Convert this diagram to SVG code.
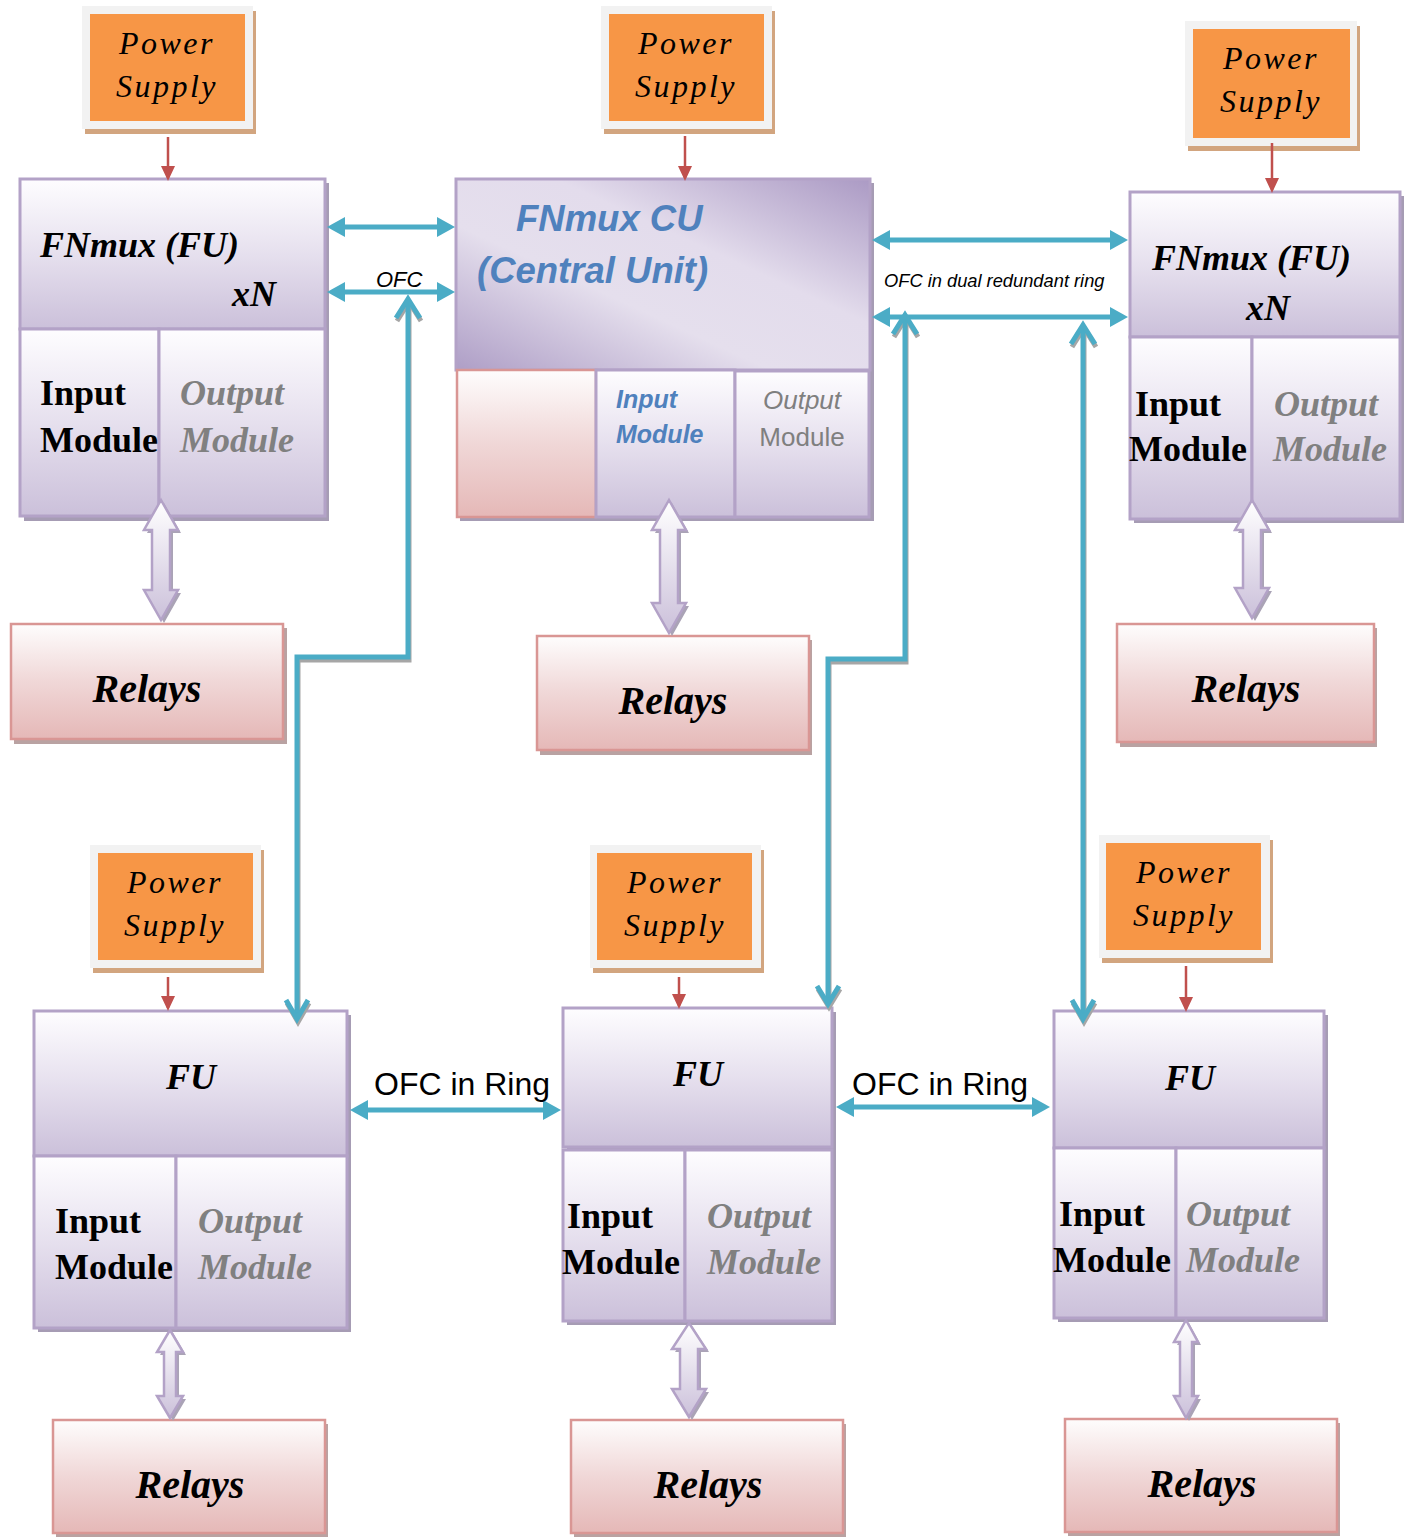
<svg xmlns="http://www.w3.org/2000/svg" width="1410" height="1537" viewBox="0 0 1410 1537">
<defs>
<linearGradient id="fuGrad" x1="0" y1="0" x2="0" y2="1">
<stop offset="0" stop-color="#fefdff"/><stop offset="0.5" stop-color="#e6e0ee"/><stop offset="1" stop-color="#cbc0da"/>
</linearGradient>
<linearGradient id="relGrad" x1="0" y1="0" x2="0" y2="1">
<stop offset="0" stop-color="#fefdfd"/><stop offset="0.5" stop-color="#f0d7d7"/><stop offset="1" stop-color="#e5b8b7"/>
</linearGradient>
<linearGradient id="cuGrad" x1="1" y1="0" x2="0" y2="1">
<stop offset="0" stop-color="#ab9ac4"/><stop offset="0.38" stop-color="#e3dcec"/><stop offset="0.62" stop-color="#e5dfed"/><stop offset="1" stop-color="#ae9ec6"/>
</linearGradient>
<linearGradient id="arrGrad" x1="0" y1="0" x2="0" y2="1">
<stop offset="0" stop-color="#ffffff"/><stop offset="1" stop-color="#cbc0da"/>
</linearGradient>
<marker id="cyanHead" viewBox="0 0 18 20" markerWidth="18" markerHeight="20" refX="4" refY="10" markerUnits="userSpaceOnUse" orient="auto-start-reverse">
<path d="M0,0 L18,10 L0,20 Z" fill="#4bacc6"/>
</marker>
<marker id="redHead" viewBox="0 0 15 14" markerWidth="15" markerHeight="14" refX="12" refY="7" markerUnits="userSpaceOnUse" orient="auto">
<path d="M0,0 L15,7 L0,14 Z" fill="#c0504d"/>
</marker>
<style>
.box{fill:url(#fuGrad);stroke:#b3a2c7;stroke-width:3}
.cu{fill:url(#cuGrad);stroke:#b3a2c7;stroke-width:3}
.rel{fill:url(#relGrad);stroke:#d99694;stroke-width:2.5}
.shFU{fill:#a69cb4}
.shRel{fill:#b9a2a2}
.shPS{fill:#d2a57f}
.psFrame{fill:#f2f2f2}
.psIn{fill:#f79646}
.barr{fill:url(#arrGrad);stroke:#b3a2c7;stroke-width:2.5;stroke-linejoin:miter}
.barrSh{fill:#aaa3b6}
.psText{font-family:"Liberation Serif","Times New Roman",serif;font-style:italic;font-size:32px;letter-spacing:2.5px;fill:#000;text-anchor:middle}
.title{font-family:"Liberation Serif","Times New Roman",serif;font-style:italic;font-weight:bold;font-size:36px;fill:#000}
.inp{font-family:"Liberation Serif","Times New Roman",serif;font-weight:bold;font-size:36px;fill:#000}
.outp{font-family:"Liberation Serif","Times New Roman",serif;font-weight:bold;font-style:italic;font-size:36px;fill:#808080}
.relT{font-family:"Liberation Serif","Times New Roman",serif;font-style:italic;font-weight:bold;font-size:40px;fill:#000;text-anchor:middle}
.cuT{font-family:"Liberation Sans",Arial,sans-serif;font-style:italic;font-weight:bold;font-size:36.5px;fill:#4f81bd}
.cuIn{font-family:"Liberation Sans",Arial,sans-serif;font-style:italic;font-weight:bold;font-size:25px;fill:#4f81bd}
.cuOut{font-family:"Liberation Sans",Arial,sans-serif;font-size:26px;fill:#7f7f7f;text-anchor:middle}
.cyan{fill:none;stroke:#4bacc6;stroke-width:5}
.cyanSh{fill:none;stroke:#a6a6a6;stroke-width:5}
.red{fill:none;stroke:#c0504d;stroke-width:2.5}
.lbl{font-family:"Liberation Sans",Arial,sans-serif;fill:#000}
</style>
</defs>
<rect width="1410" height="1537" fill="#ffffff"/>

<!-- Power supplies -->
<g id="ps1"><rect class="shPS" x="85" y="11" width="171" height="123"/><rect class="psFrame" x="82" y="6" width="171" height="123"/><rect class="psIn" x="90" y="14" width="155" height="107"/><text class="psText" x="167" y="54">Power</text><text class="psText" x="167" y="97">Supply</text></g>
<g id="ps2"><rect class="shPS" x="604" y="11" width="171" height="123"/><rect class="psFrame" x="601" y="6" width="171" height="123"/><rect class="psIn" x="609" y="14" width="155" height="107"/><text class="psText" x="686" y="54">Power</text><text class="psText" x="686" y="97">Supply</text></g>
<g id="ps3"><rect class="shPS" x="1188" y="26" width="172" height="125"/><rect class="psFrame" x="1185" y="21" width="172" height="125"/><rect class="psIn" x="1193" y="29" width="157" height="109"/><text class="psText" x="1271" y="69">Power</text><text class="psText" x="1271" y="112">Supply</text></g>
<g id="ps4"><rect class="shPS" x="93" y="850" width="171" height="123"/><rect class="psFrame" x="90" y="845" width="171" height="123"/><rect class="psIn" x="98" y="853" width="155" height="107"/><text class="psText" x="175" y="893">Power</text><text class="psText" x="175" y="936">Supply</text></g>
<g id="ps5"><rect class="shPS" x="593" y="850" width="171" height="123"/><rect class="psFrame" x="590" y="845" width="171" height="123"/><rect class="psIn" x="597" y="853" width="155" height="107"/><text class="psText" x="675" y="893">Power</text><text class="psText" x="675" y="936">Supply</text></g>
<g id="ps6"><rect class="shPS" x="1102" y="840" width="171" height="123"/><rect class="psFrame" x="1099" y="835" width="171" height="123"/><rect class="psIn" x="1106" y="843" width="155" height="107"/><text class="psText" x="1184" y="883">Power</text><text class="psText" x="1184" y="926">Supply</text></g>

<!-- FU top-left -->
<g id="fu1">
<rect class="shFU" x="24" y="183" width="305" height="338"/>
<rect class="box" x="20" y="179" width="305" height="150"/>
<rect class="box" x="20" y="329" width="139" height="187"/>
<rect class="box" x="159" y="329" width="166" height="187"/>
<text class="title" x="40" y="257">FNmux (FU)</text>
<text class="title" x="232" y="306">xN</text>
<text class="inp" x="40" y="405">Input</text><text class="inp" x="40" y="452">Module</text>
<text class="outp" x="180" y="405">Output</text><text class="outp" x="180" y="452">Module</text>
</g>

<!-- CU -->
<g id="cu">
<rect class="shFU" x="460" y="183" width="414" height="338"/>
<rect class="cu" x="456" y="179" width="414" height="191"/>
<rect class="rel" x="457" y="370" width="139" height="147"/>
<rect class="box" x="596" y="370" width="139" height="147"/>
<rect class="box" x="735" y="371" width="134" height="146"/>
<text class="cuT" x="516" y="231">FNmux CU</text>
<text class="cuT" x="477" y="283">(Central Unit)</text>
<text class="cuIn" x="616" y="408">Input</text><text class="cuIn" x="616" y="443">Module</text>
<text class="cuOut" x="802" y="409" font-style="italic">Output</text><text class="cuOut" x="802" y="446">Module</text>
</g>

<!-- FU top-right -->
<g id="fu3">
<rect class="shFU" x="1134" y="196" width="270" height="327"/>
<rect class="box" x="1130" y="192" width="270" height="145"/>
<rect class="box" x="1130" y="337" width="122" height="182"/>
<rect class="box" x="1252" y="337" width="148" height="182"/>
<text class="title" x="1152" y="270">FNmux (FU)</text>
<text class="title" x="1246" y="320">xN</text>
<text class="inp" x="1135" y="416">Input</text><text class="inp" x="1129" y="461">Module</text>
<text class="outp" x="1274" y="416">Output</text><text class="outp" x="1273" y="461">Module</text>
</g>

<!-- FU bottom-left -->
<g id="fu4">
<rect class="shFU" x="38" y="1015" width="313" height="317"/>
<rect class="box" x="34" y="1011" width="313" height="145"/>
<rect class="box" x="34" y="1156" width="142" height="172"/>
<rect class="box" x="176" y="1156" width="171" height="172"/>
<text class="title" x="191" y="1089" text-anchor="middle">FU</text>
<text class="inp" x="55" y="1233">Input</text><text class="inp" x="55" y="1279">Module</text>
<text class="outp" x="198" y="1233">Output</text><text class="outp" x="198" y="1279">Module</text>
</g>

<!-- FU bottom-middle -->
<g id="fu5">
<rect class="shFU" x="567" y="1012" width="269" height="313"/>
<rect class="box" x="563" y="1008" width="269" height="139"/>
<rect class="box" x="563" y="1150" width="122" height="171"/>
<rect class="box" x="685" y="1150" width="147" height="171"/>
<text class="title" x="698" y="1086" text-anchor="middle">FU</text>
<text class="inp" x="567" y="1228">Input</text><text class="inp" x="562" y="1274">Module</text>
<text class="outp" x="707" y="1228">Output</text><text class="outp" x="707" y="1274">Module</text>
</g>

<!-- FU bottom-right -->
<g id="fu6">
<rect class="shFU" x="1058" y="1015" width="270" height="307"/>
<rect class="box" x="1054" y="1011" width="270" height="137"/>
<rect class="box" x="1054" y="1148" width="122" height="170"/>
<rect class="box" x="1176" y="1148" width="148" height="170"/>
<text class="title" x="1190" y="1090" text-anchor="middle">FU</text>
<text class="inp" x="1059" y="1226">Input</text><text class="inp" x="1053" y="1272">Module</text>
<text class="outp" x="1186" y="1226">Output</text><text class="outp" x="1186" y="1272">Module</text>
</g>

<!-- Relays -->
<g id="relay1"><rect class="shRel" x="14" y="628" width="273" height="116"/><rect class="rel" x="11" y="624" width="272" height="115"/><text class="relT" x="147" y="702">Relays</text></g>
<g id="relay2"><rect class="shRel" x="540" y="640" width="272" height="115"/><rect class="rel" x="537" y="636" width="272" height="114"/><text class="relT" x="673" y="714">Relays</text></g>
<g id="relay3"><rect class="shRel" x="1120" y="628" width="257" height="119"/><rect class="rel" x="1117" y="624" width="257" height="118"/><text class="relT" x="1246" y="702">Relays</text></g>
<g id="relay4"><rect class="shRel" x="56" y="1424" width="272" height="113"/><rect class="rel" x="53" y="1420" width="272" height="113"/><text class="relT" x="190" y="1498">Relays</text></g>
<g id="relay5"><rect class="shRel" x="574" y="1424" width="272" height="113"/><rect class="rel" x="571" y="1420" width="272" height="113"/><text class="relT" x="708" y="1498">Relays</text></g>
<g id="relay6"><rect class="shRel" x="1068" y="1423" width="272" height="113"/><rect class="rel" x="1065" y="1419" width="272" height="113"/><text class="relT" x="1202" y="1497">Relays</text></g>

<!-- Connectors -->
<g id="connectors">
<line class="red" x1="168" y1="137" x2="168" y2="178" marker-end="url(#redHead)"/>
<line class="red" x1="685" y1="136" x2="685" y2="178" marker-end="url(#redHead)"/>
<line class="red" x1="1272" y1="143" x2="1272" y2="190" marker-end="url(#redHead)"/>
<line class="red" x1="168" y1="977" x2="168" y2="1008" marker-end="url(#redHead)"/>
<line class="red" x1="679" y1="977" x2="679" y2="1006" marker-end="url(#redHead)"/>
<line class="red" x1="1186" y1="966" x2="1186" y2="1009" marker-end="url(#redHead)"/>

<path class="barrSh" d="M164,503 L181,533 L173,533 L173,593 L181,593 L164,623 L147,593 L155,593 L155,533 L147,533 Z"/>
<path class="barr" d="M161,500 L178,530 L170,530 L170,590 L178,590 L161,620 L144,590 L152,590 L152,530 L144,530 Z"/>
<path class="barrSh" d="M672,503 L689,533 L681,533 L681,606 L689,606 L672,636 L655,606 L663,606 L663,533 L655,533 Z"/>
<path class="barr" d="M669,500 L686,530 L678,530 L678,603 L686,603 L669,633 L652,603 L660,603 L660,530 L652,530 Z"/>
<path class="barrSh" d="M1255,503 L1272,533 L1264,533 L1264,591 L1272,591 L1255,621 L1238,591 L1246,591 L1246,533 L1238,533 Z"/>
<path class="barr" d="M1252,500 L1269,530 L1261,530 L1261,588 L1269,588 L1252,618 L1235,588 L1243,588 L1243,530 L1235,530 Z"/>
<path class="barrSh" d="M173,1333 L186,1355 L179,1355 L179,1399 L186,1399 L173,1421 L160,1399 L167,1399 L167,1355 L160,1355 Z"/>
<path class="barr" d="M170,1330 L183,1352 L176,1352 L176,1396 L183,1396 L170,1418 L157,1396 L164,1396 L164,1352 L157,1352 Z"/>
<path class="barrSh" d="M692,1326 L709,1352 L701,1352 L701,1392 L709,1392 L692,1420 L675,1392 L683,1392 L683,1352 L675,1352 Z"/>
<path class="barr" d="M689,1323 L706,1349 L698,1349 L698,1389 L706,1389 L689,1417 L672,1389 L680,1389 L680,1349 L672,1349 Z"/>
<path class="barrSh" d="M1189,1323 L1201,1345 L1195,1345 L1195,1399 L1201,1399 L1189,1421 L1177,1399 L1183,1399 L1183,1345 L1177,1345 Z"/>
<path class="barr" d="M1186,1320 L1198,1342 L1192,1342 L1192,1396 L1198,1396 L1186,1418 L1174,1396 L1180,1396 L1180,1342 L1174,1342 Z"/>

<line class="cyan" x1="341" y1="227" x2="441" y2="227" marker-start="url(#cyanHead)" marker-end="url(#cyanHead)"/>
<line class="cyan" x1="341" y1="292" x2="441" y2="292" marker-start="url(#cyanHead)" marker-end="url(#cyanHead)"/>
<line class="cyan" x1="886" y1="240" x2="1114" y2="240" marker-start="url(#cyanHead)" marker-end="url(#cyanHead)"/>
<line class="cyan" x1="886" y1="317" x2="1114" y2="317" marker-start="url(#cyanHead)" marker-end="url(#cyanHead)"/>
<line class="cyan" x1="364" y1="1110" x2="547" y2="1110" marker-start="url(#cyanHead)" marker-end="url(#cyanHead)"/>
<line class="cyan" x1="850" y1="1107" x2="1036" y2="1107" marker-start="url(#cyanHead)" marker-end="url(#cyanHead)"/>

<g transform="translate(1,3)">
<path class="cyanSh" d="M408,302 V657 H297 V1016"/>
<path class="cyanSh" d="M396,318 L408,299 L420,318"/>
<path class="cyanSh" d="M286,1000 L297,1019 L308,1000"/>
<path class="cyanSh" d="M905,318 V659 H828 V1001"/>
<path class="cyanSh" d="M893,334 L905,315 L917,334"/>
<path class="cyanSh" d="M817,986 L828,1004 L839,986"/>
<path class="cyanSh" d="M1083,327 V1016"/>
<path class="cyanSh" d="M1071,344 L1083,325 L1095,344"/>
<path class="cyanSh" d="M1072,1000 L1083,1019 L1094,1000"/>
</g>
<path class="cyan" d="M408,302 V657 H297 V1016"/>
<path class="cyan" d="M396,318 L408,299 L420,318"/>
<path class="cyan" d="M286,1000 L297,1019 L308,1000"/>
<path class="cyan" d="M905,318 V659 H828 V1001"/>
<path class="cyan" d="M893,334 L905,315 L917,334"/>
<path class="cyan" d="M817,986 L828,1004 L839,986"/>
<path class="cyan" d="M1083,327 V1016"/>
<path class="cyan" d="M1071,344 L1083,325 L1095,344"/>
<path class="cyan" d="M1072,1000 L1083,1019 L1094,1000"/>

<text class="lbl" x="376" y="287" font-size="22" font-style="italic">OFC</text>
<text class="lbl" x="884" y="287" font-size="18.3" font-style="italic">OFC in dual redundant ring</text>
<text class="lbl" x="374" y="1095" font-size="32">OFC in Ring</text>
<text class="lbl" x="852" y="1095" font-size="32">OFC in Ring</text>
</g>
</svg>
